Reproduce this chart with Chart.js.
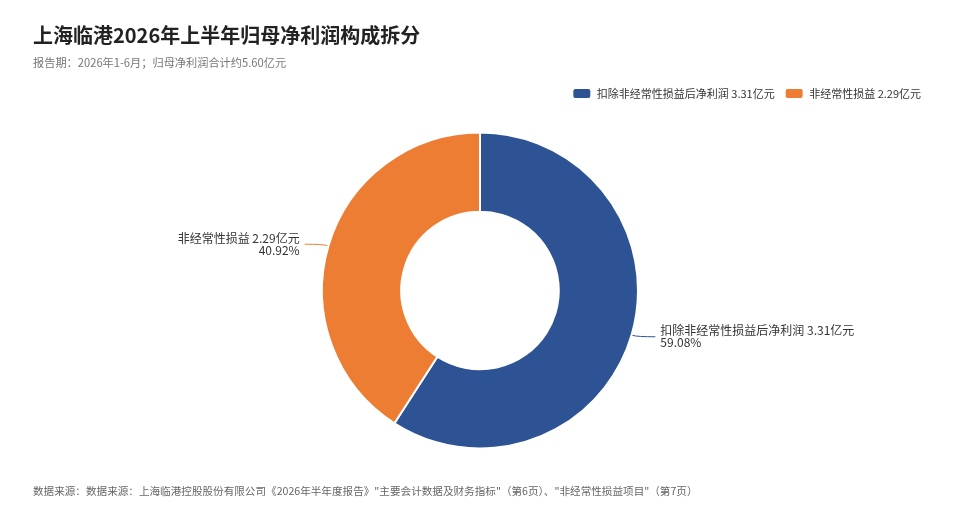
<!DOCTYPE html>
<html>
<head>
<meta charset="utf-8">
<script src="https://cdn.jsdelivr.net/npm/chart.js@4"></script>
<style>
  body { margin: 0; background: #fff; font-family: "Noto Sans CJK SC", "Noto Sans", sans-serif; }
  #wrap { position: relative; width: 960px; height: 512px; }
  #myChart { position: absolute; left: 0; top: 0; }
  .title { position: absolute; left: 33px; top: 20px; font-size: 20px; font-weight: bold; color: #222; }
  .sub { position: absolute; left: 33px; top: 54px; font-size: 11.2px; color: #777; }
  .foot { position: absolute; left: 33px; top: 483px; font-size: 10.6px; color: #666; }
</style>
</head>
<body>
<div id="wrap">
  <canvas id="myChart" width="960" height="512"></canvas>
  <div class="title">上海临港2026年上半年归母净利润构成拆分</div>
  <div class="sub">报告期：2026年1-6月；归母净利润合计约5.60亿元</div>
  <div class="foot">数据来源：数据来源：上海临港控股股份有限公司《2026年半年度报告》"主要会计数据及财务指标"（第6页）、"非经常性损益项目"（第7页）</div>
</div>
<script>
// 데이터
const labels = ['扣除非经常性损益后净利润', '非经常性损益'];
const values = [3.31, 2.29];          // 亿元
const shares = ['59.08%', '40.92%'];
const colors = ['#2e5394', '#ec7d32'];

// 라벨 + 지시선 그리기
const sideLabels = {
  id: 'sideLabels',
  afterDatasetsDraw(chart) {
    const c = chart.ctx;
    const meta = chart.getDatasetMeta(0);
    c.save();
    c.font = '12px "Noto Sans CJK SC", sans-serif';
    c.fillStyle = '#333';
    meta.data.forEach((arc, i) => {
      const mid = (arc.startAngle + arc.endAngle) / 2;
      const r = arc.outerRadius;
      const x0 = arc.x + Math.cos(mid) * (r + 1);
      const y0 = arc.y + Math.sin(mid) * (r + 1);
      const x1 = arc.x + Math.cos(mid) * (r + 6);
      const y1 = arc.y + Math.sin(mid) * (r + 6);
      const right = Math.cos(mid) >= 0;
      const x2 = x1 + (right ? 18 : -18);
      c.strokeStyle = colors[i];
      c.lineWidth = 1;
      c.beginPath();
      c.moveTo(x0, y0);
      c.quadraticCurveTo(x1, y1, x2, y1);
      c.stroke();
      c.textAlign = right ? 'left' : 'right';
      c.textBaseline = 'middle';
      const tx = x2 + (right ? 5 : -5);
      c.fillText(labels[i] + ' ' + values[i].toFixed(2) + '亿元', tx, y1 - 6);
      c.fillText(shares[i], tx, y1 + 6);
    });
    c.restore();
  }
};

new Chart(document.getElementById('myChart'), {
  type: 'doughnut',
  data: {
    labels: labels.map((l, i) => l + ' ' + values[i].toFixed(2) + '亿元'),
    datasets: [{
      data: values,
      backgroundColor: colors,
      borderColor: '#fff',
      borderWidth: 2,
      radius: 158,
      cutout: 90
    }]
  },
  options: {
    responsive: false,
    animation: false,
    layout: { padding: { top: 78, bottom: 40, left: 29, right: 29 } },
    plugins: {
      legend: {
        position: 'top',
        align: 'end',
        labels: {
          boxWidth: 19,
          boxHeight: 11,
          useBorderRadius: true,
          borderRadius: 3,
          color: '#333',
          padding: 10,
          font: { size: 11, family: '"Noto Sans CJK SC", sans-serif' }
        }
      },
      tooltip: { enabled: false }
    }
  },
  plugins: [sideLabels]
});
</script>
</body>
</html>
